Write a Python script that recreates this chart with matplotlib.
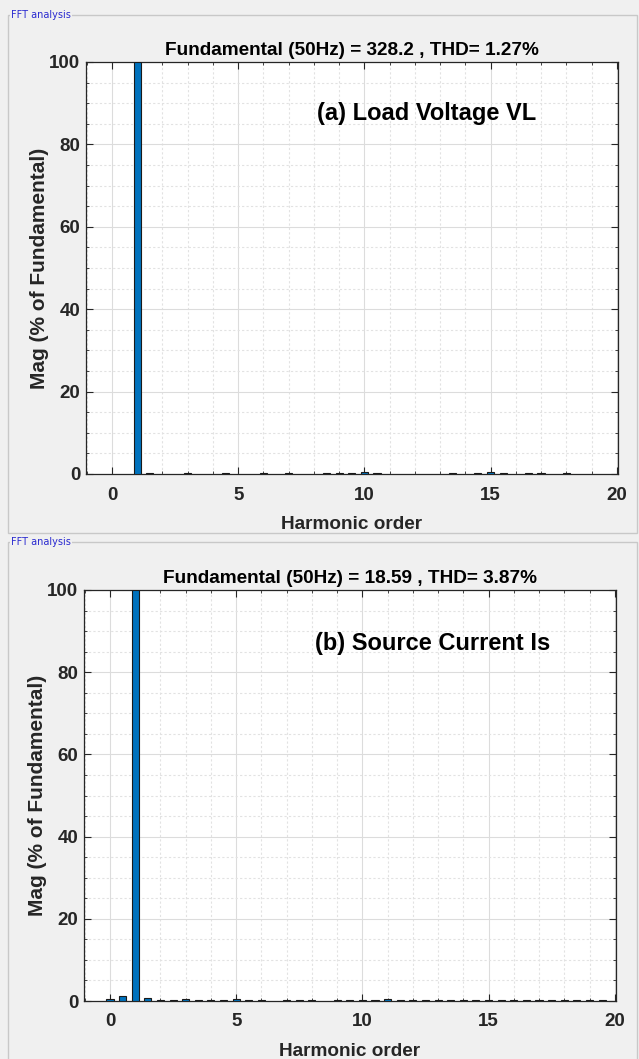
import matplotlib.pyplot as plt
from matplotlib.patches import Rectangle
from matplotlib.ticker import MultipleLocator

plt.rcParams['font.family'] = ['Liberation Sans', 'DejaVu Sans']

# harmonic orders and magnitudes (% of fundamental)
vl_order = [1, 1.5, 3, 4.5, 6, 7, 8.5, 9, 9.5, 10, 10.5, 13.5, 14.5, 15, 15.5, 16.5, 17, 18]
vl_mag = [100, 0.3, 0.3, 0.3, 0.3, 0.3, 0.3, 0.3, 0.3, 0.4, 0.3, 0.3, 0.3, 0.4, 0.3, 0.3, 0.3, 0.3]

is_order = [0, 0.5, 1, 1.5, 2, 2.5, 3, 3.5, 4, 4.5, 5, 5.5, 6, 7, 7.5, 8, 9, 9.5,
            10, 10.5, 11, 11.5, 12, 12.5, 13, 13.5, 14, 14.5, 15, 15.5, 16, 16.5,
            17, 17.5, 18, 18.5, 19, 19.5]
is_mag = [0.6, 1.1, 100, 0.8, 0.3, 0.3, 0.6, 0.3, 0.3, 0.3, 0.6, 0.3, 0.3, 0.3, 0.3, 0.3, 0.3, 0.3,
          0.3, 0.3, 0.6, 0.3, 0.3, 0.3, 0.3, 0.3, 0.3, 0.3, 0.3, 0.3, 0.3, 0.3,
          0.3, 0.3, 0.3, 0.3, 0.3, 0.3]

titles = ["Fundamental (50Hz) = 328.2 , THD= 1.27%",
          "Fundamental (50Hz) = 18.59 , THD= 3.87%"]
labels = ["(a) Load Voltage VL", "(b) Source Current Is"]

W, H = 639, 1059
bg = '#f0f0f0'
fig = plt.figure(figsize=(W / 100, H / 100), dpi=100, facecolor=bg)


def px(x0, y0, x1, y1):
    # pixel box (top-left origin) -> figure fraction rect
    return [x0 / W, 1 - y1 / H, (x1 - x0) / W, (y1 - y0) / H]


# panel frames
for (y0, y1) in [(15, 533), (542, 1070)]:
    fig.patches.append(Rectangle((8 / W, 1 - y1 / H), (W - 10) / W, (y1 - y0) / H,
                                 transform=fig.transFigure, fill=False,
                                 edgecolor='#c8c8c8', linewidth=1.0))
    fig.text(11 / W, 1 - y0 / H, "FFT analysis", color='#2a2ad0', fontsize=7,
             va='center', ha='left', family=['DejaVu Sans'],
             bbox=dict(facecolor=bg, edgecolor='none', pad=1))

boxes = [px(86, 62, 618, 474), px(84, 590, 616, 1001)]
data = [(vl_order, vl_mag), (is_order, is_mag)]
ann_y = [0.875, 0.87]

for i, ax_box in enumerate(boxes):
    ax = fig.add_axes(ax_box)
    order, mag = data[i]
    ax.bar(order, mag, width=0.28, color='#0072bd', edgecolor='#1a1a1a',
           linewidth=0.8, zorder=3)
    ax.set_xlim(-1.03, 20.05)
    ax.set_ylim(0, 100)
    ax.xaxis.set_major_locator(MultipleLocator(5))
    ax.xaxis.set_minor_locator(MultipleLocator(1))
    ax.yaxis.set_major_locator(MultipleLocator(20))
    ax.yaxis.set_minor_locator(MultipleLocator(5))
    ax.grid(which='major', color='#dcdcdc', linewidth=0.8, zorder=0)
    ax.grid(which='minor', color='#e2e2e2', linewidth=0.8, linestyle=(0, (2, 2)), zorder=0)
    ax.set_axisbelow(True)
    ax.tick_params(which='both', direction='in', top=True, right=True,
                   colors='#262626', labelsize=13.5)
    ax.tick_params(which='major', length=5)
    ax.tick_params(which='minor', length=2.5)
    ax.tick_params(axis='x', pad=9)
    ax.tick_params(axis='y', pad=4)
    for lab in ax.get_xticklabels() + ax.get_yticklabels():
        lab.set_fontweight('bold')
    for sp in ax.spines.values():
        sp.set_color('#262626')
        sp.set_linewidth(0.9)
    ax.set_title(titles[i], fontsize=13.7, fontweight='bold', pad=5)
    ax.set_xlabel("Harmonic order", fontsize=13.7, fontweight='bold', color='#262626', labelpad=9)
    ax.set_ylabel("Mag (% of Fundamental)", fontsize=15, fontweight='bold', color='#262626')
    ax.yaxis.set_label_coords(-0.07, 0.5)
    ax.text(0.434, ann_y[i], labels[i], transform=ax.transAxes, fontsize=17,
            fontweight='bold', ha='left', va='center')

fig.savefig('out.png', dpi=100, facecolor=bg)
